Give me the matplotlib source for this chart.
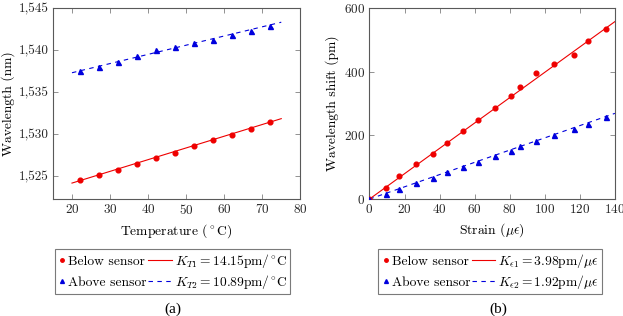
import matplotlib
matplotlib.use("Agg")
import matplotlib.pyplot as plt
from matplotlib.legend_handler import HandlerBase
from matplotlib.lines import Line2D
from matplotlib.text import Text
from matplotlib.ticker import FuncFormatter

plt.rcParams["font.family"] = "cmr10"
plt.rcParams["mathtext.fontset"] = "cm"
plt.rcParams["axes.formatter.use_mathtext"] = True
plt.rcParams["font.size"] = 9.5

# ---- (a) temperature ----
temp = [22, 27, 32, 37, 42, 47, 52, 57, 62, 67, 72]
below_temp = [1524.52, 1525.16, 1525.71, 1526.43, 1527.18, 1527.82,
              1528.60, 1529.29, 1529.96, 1530.68, 1531.43]
above_temp = [1537.45, 1537.95, 1538.52, 1539.30, 1540.05, 1540.40,
              1540.82, 1541.22, 1541.75, 1542.28, 1542.90]
fit_temp_x = [20, 75]
fit_below_temp = [1524.2, 1531.85]
fit_above_temp = [1537.3, 1543.3]

# ---- (b) strain ----
strain = [0, 9.2, 17.0, 26.5, 36.4, 44.0, 53.1, 62.0, 71.7, 80.8, 86.0,
          95.1, 105.0, 116.8, 124.7, 134.7]
below_strain = [0, 34.6, 73.2, 110.0, 142.3, 176.9, 214.6, 248.2, 285.9,
                322.6, 350.9, 394.9, 424.1, 452.4, 495.4, 534.1]
above_strain = [0, 15.7, 30.4, 51.2, 66.9, 83.9, 99.6, 115.3, 135.1,
                151.7, 166.5, 182.2, 201.1, 219.9, 235.6, 256.7]
fit_strain_x = [0, 140]
fit_below_strain = [0, 557]
fit_above_strain = [0, 269]

series_names = ["Below sensor", "Above sensor"]

RED = "#ee0000"
BLUE = "#0000dd"
FRAME = "0.35"
DASH = (0, (4, 4))
LEG_FS = 9.7


class LegendRow:
    """pgfplots style row: marker, series name, fit line (label goes after)."""

    def __init__(self, name, color, marker, ms, ls):
        self.name, self.color, self.marker, self.ms, self.ls = name, color, marker, ms, ls


class LegendRowHandler(HandlerBase):
    def create_artists(self, legend, orig, xdescent, ydescent, width, height,
                       fontsize, trans):
        y = (height - ydescent) / 2
        x0 = -xdescent
        mark = Line2D([x0 + 3.0], [y], marker=orig.marker, ls="none",
                      color=orig.color, ms=orig.ms, transform=trans)
        txt = Text(x0 + 7.2, 0, orig.name, fontproperties=legend.prop,
                   va="baseline", ha="left", transform=trans)
        line = Line2D([x0 + 65.0, x0 + width], [y, y], color=orig.color,
                      lw=0.8, ls=orig.ls, transform=trans)
        return [mark, txt, line]


fig = plt.figure(figsize=(6.23, 3.16), dpi=100)
ax1 = fig.add_axes([0.085, 0.370, 0.397, 0.605])
ax2 = fig.add_axes([0.593, 0.370, 0.394, 0.605])


def style_axes(ax):
    for sp in ax.spines.values():
        sp.set_color(FRAME)
        sp.set_linewidth(0.8)
    ax.tick_params(direction="in", length=3.5, width=0.6, color="0.5",
                   top=True, right=True, pad=3, labelcolor="0.15")


def draw(ax, x, yb, ya, fx, fb, fa):
    ax.plot(fx, fb, color=RED, lw=0.8, zorder=2)
    ax.plot(fx, fa, color=BLUE, lw=0.8, ls=DASH, zorder=2)
    ax.plot(x, yb, "o", color=RED, ms=3.4, zorder=3)
    ax.plot(x, ya, "^", color=BLUE, ms=3.6, zorder=3)


def legend(ax, lab1, lab2, x0):
    rows = [LegendRow(series_names[0], RED, "o", 2.5, "-"),
            LegendRow(series_names[1], BLUE, "^", 2.8, DASH)]
    leg = ax.legend(rows, [lab1, lab2], loc="upper left",
                    handler_map={LegendRow: LegendRowHandler()},
                    bbox_to_anchor=(x0, 0.213), bbox_transform=fig.transFigure,
                    fontsize=LEG_FS, handlelength=82 / LEG_FS,
                    handletextpad=0.22, labelspacing=0.2, borderpad=0.25,
                    frameon=True, fancybox=False, edgecolor=FRAME,
                    borderaxespad=0)
    leg.get_frame().set_linewidth(0.8)


draw(ax1, temp, below_temp, above_temp, fit_temp_x, fit_below_temp, fit_above_temp)
ax1.set_xlim(15, 80)
ax1.set_ylim(1522.3, 1545)
ax1.set_xticks([20, 30, 40, 50, 60, 70, 80])
ax1.set_yticks([1525, 1530, 1535, 1540, 1545])
ax1.yaxis.set_major_formatter(FuncFormatter(lambda v, p: f"{v:,.0f}"))
ax1.set_xlabel(r"Temperature ($^\circ$C)", fontsize=9.8, labelpad=3.5)
ax1.set_ylabel("Wavelength (nm)", fontsize=9.8, labelpad=2.5)
style_axes(ax1)
legend(ax1, r"$K_{T1} = 14.15\mathrm{pm}/^{\circ}\mathrm{C}$",
       r"$K_{T2} = 10.89\mathrm{pm}/^{\circ}\mathrm{C}$", 0.088)

draw(ax2, strain, below_strain, above_strain, fit_strain_x, fit_below_strain, fit_above_strain)
ax2.set_xlim(0, 140)
ax2.set_ylim(0, 600)
ax2.set_xticks([0, 20, 40, 60, 80, 100, 120, 140])
ax2.set_yticks([0, 200, 400, 600])
ax2.set_xlabel(r"Strain ($\mu\epsilon$)", fontsize=9.8, labelpad=3.5)
ax2.set_ylabel("Wavelength shift (pm)", fontsize=9.8, labelpad=3.5)
style_axes(ax2)
legend(ax2, r"$K_{\epsilon1} = 3.98\mathrm{pm}/\mu\epsilon$",
       r"$K_{\epsilon2} = 1.92\mathrm{pm}/\mu\epsilon$", 0.607)

fig.text(0.278, 0.022, "(a)", family="Liberation Serif", fontsize=11,
         ha="center", va="center")
fig.text(0.80, 0.022, "(b)", family="Liberation Serif", fontsize=11,
         ha="center", va="center")

fig.savefig("out.png", dpi=100)
